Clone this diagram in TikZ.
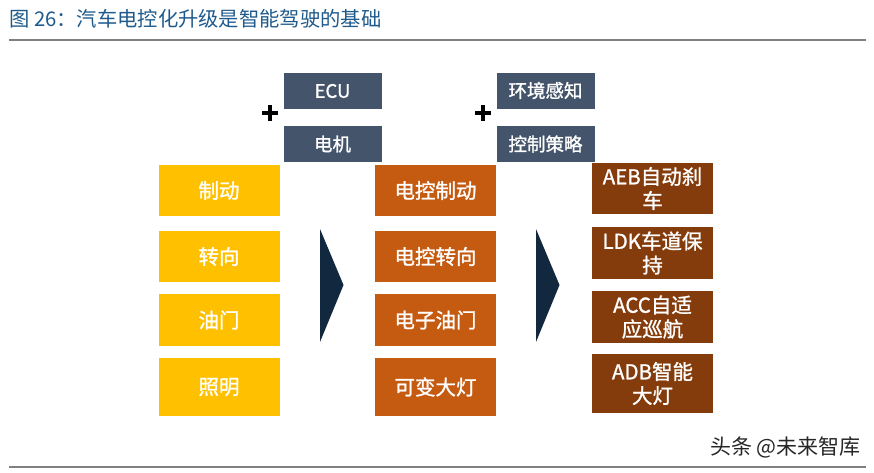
\documentclass[tikz,border=0pt]{standalone}
\usepackage{fontspec}
\setmainfont{Noto Sans CJK SC}
\newfontfamily\boxfont{Noto Sans CJK SC}[FakeBold=1.2]
\definecolor{ttlblue}{HTML}{1F5A8C}
\definecolor{ylw}{HTML}{FFC000}
\definecolor{org}{HTML}{C55A11}
\definecolor{brn}{HTML}{843C0C}
\definecolor{slate}{HTML}{44546A}
\definecolor{navy}{HTML}{12283F}
\definecolor{rule}{HTML}{808080}
\tikzset{
  box/.style={inner sep=0pt, minimum width=121pt, font=\boxfont\fontsize{20.5}{24}\selectfont, text=white, align=center},
  ybox/.style={box, fill=ylw},
  obox/.style={box, fill=org},
  bbox/.style={box, fill=brn},
  sbox/.style={inner sep=0pt, minimum width=98pt, minimum height=36pt, fill=slate, text=white, font=\boxfont\fontsize{18.5}{22}\selectfont},
  plus/.style={line width=4.5pt},
  chev/.style={fill=navy},
  hrule/.style={draw=rule, line width=2.5pt}
}
\begin{document}
\begin{tikzpicture}[x=1pt,y=-1pt]
\useasboundingbox (0,0) rectangle (874,472);
\fill[white] (0,0) rectangle (874,472);
% title
\node[anchor=west, inner sep=0pt, text=ttlblue, font=\fontsize{20.3}{22}\selectfont] (title) at (9,19) {图 26：汽车电控化升级是智能驾驶的基础};
\draw[hrule] (9,40) -- (866,40);
% top slate boxes
\node[sbox] (ecu) at (332.5,91) {ECU};
\node[sbox] (motor) at (332.5,144) {电机};
\node[sbox] (env) at (545.5,90.5) {环境感知};
\node[sbox] (ctrl) at (545.5,144) {控制策略};
\draw[plus] (262,113) -- (278,113) (270,105) -- (270,121);
\draw[plus] (475,113) -- (491,113) (483,105) -- (483,121);
% yellow column
\node[ybox, minimum height=51pt] (y1) at (219,190.5) {制动};
\node[ybox, minimum height=51pt] (y2) at (219,256.5) {转向};
\node[ybox, minimum height=52pt] (y3) at (219,320) {油门};
\node[ybox, minimum height=58pt] (y4) at (219,387) {照明};
% orange column
\node[obox, minimum height=51pt] (o1) at (435.5,190.5) {电控制动};
\node[obox, minimum height=51pt] (o2) at (435.5,256.5) {电控转向};
\node[obox, minimum height=52pt] (o3) at (435.5,320) {电子油门};
\node[obox, minimum height=58pt] (o4) at (435.5,387) {可变大灯};
% brown column
\node[bbox, minimum height=51pt] (b1) at (652.5,188.5) {AEB自动刹\\车};
\node[bbox, minimum height=52pt] (b2) at (652.5,253) {LDK车道保\\持};
\node[bbox, minimum height=52pt] (b3) at (652.5,317) {ACC自适\\应巡航};
\node[bbox, minimum height=59pt] (b4) at (652.5,383.5) {ADB智能\\大灯};
% chevrons
\fill[chev] (320,229) -- (343.5,285) -- (320,342) -- cycle;
\fill[chev] (536,229) -- (559.5,285) -- (536,342) -- cycle;
% footer
\node[anchor=east, inner sep=0pt, text=black!85, font=\fontsize{21}{23}\selectfont] (wm) at (861,447) {头条 @未来智库};
\draw[hrule] (9,467) -- (866,467);
\end{tikzpicture}
\end{document}
